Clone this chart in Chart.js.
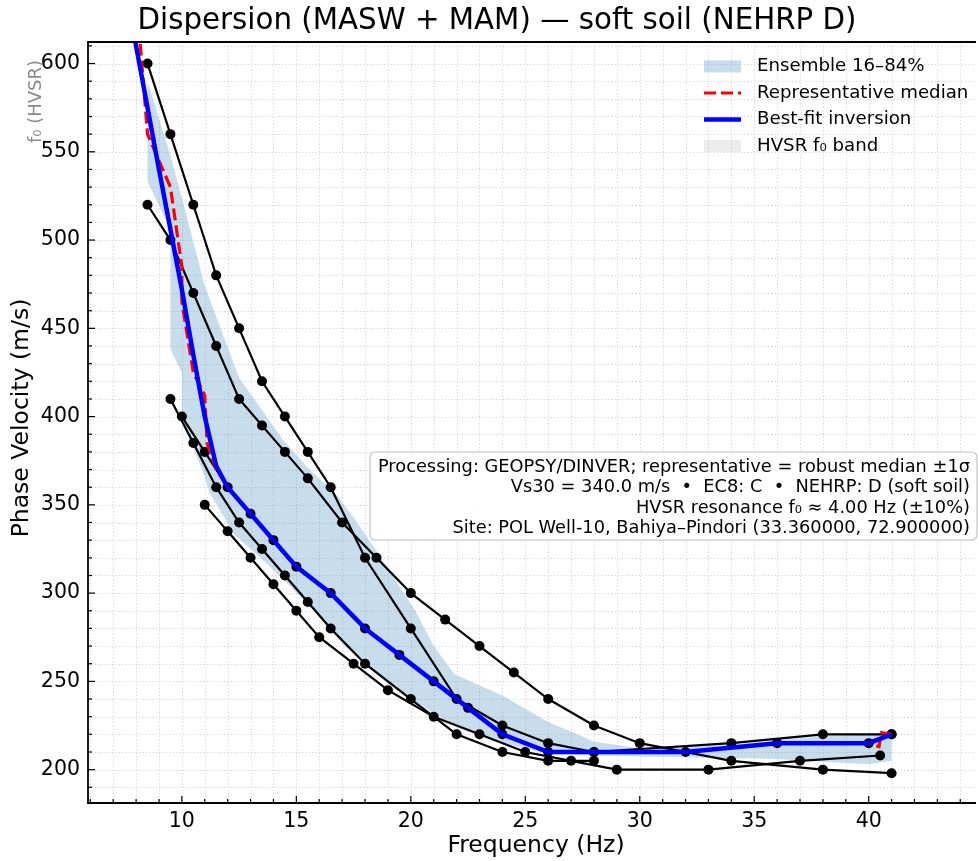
<!DOCTYPE html>
<html>
<head>
<meta charset="utf-8">
<script src="https://cdn.jsdelivr.net/npm/chart.js@4.4.1/dist/chart.umd.min.js"></script>
<style>
  html, body { margin: 0; padding: 0; background: #fff; }
  #chart { display: block; }
</style>
</head>
<body>
<canvas id="chart" width="979" height="861"></canvas>
<script>
// Data ==========================
// measured dispersion picks (black curves)
const pickAF = [8.5, 9.5, 10.5, 11.5, 12.5, 13.5, 14.5, 15.5, 16.5, 18, 20, 22, 24, 26, 28, 34, 38, 41];
const pickAV = [600, 560, 520, 480, 450, 420, 400, 380, 360, 320, 280, 240, 225, 215, 210, 215, 220, 220];
const pickBF = [8.5, 9.5, 10.5, 11.5, 12.5, 13.5, 14.5, 15.5, 17, 18.5, 20, 21.5, 23, 24.5, 26, 28, 30, 34, 38, 41];
const pickBV = [520, 500, 470, 440, 410, 395, 380, 365, 340, 320, 300, 285, 270, 255, 240, 225, 215, 205, 200, 198];
const pickCF = [9.5, 10.5, 11.5, 12.5, 13.5, 14.5, 15.5, 16.5, 18, 20, 22, 24, 26, 28];
const pickCV = [410, 385, 360, 340, 325, 310, 295, 280, 260, 240, 220, 210, 205, 205];
const pickDF = [10, 11, 12, 13, 14, 15, 16.5, 18, 19.5, 21, 22.5, 24, 26, 28, 32, 36, 40, 41];
const pickDV = [400, 380, 360, 345, 330, 315, 300, 280, 265, 250, 235, 220, 210, 210, 210, 215, 215, 220];
const pickEF = [11, 12, 13, 14, 15, 16, 17.5, 19, 21, 23, 25, 27, 29, 33, 37, 40.5];
const pickEV = [350, 335, 320, 305, 290, 275, 260, 245, 230, 220, 210, 205, 200, 200, 205, 208];

// ensemble 16-84% band edges
const bandHiF = [8.5, 9.5, 10, 11, 12.5, 14.4, 15.5, 16.8, 17.6, 18.6, 20.2, 21, 21.9, 24, 26, 28, 30, 34, 38, 41];
const bandHiV = [590, 548, 524, 474, 422, 387, 371, 355, 341, 322, 290, 270, 254, 242, 227, 216, 212, 214, 219, 220];
const bandLoF = [8.5, 9.5, 9.5, 10, 10, 11, 11.2, 12.3, 13.6, 15.5, 17.1, 19, 21, 22, 24, 26, 28, 32, 36, 40, 41];
const bandLoV = [533, 506, 438, 425, 398, 366, 357, 333, 318, 294, 270, 249, 232, 224, 215, 209, 208, 207, 206, 203, 205];

// representative median
const medianF = [8.0, 8.5, 9.5, 10, 10, 10.5, 11, 11.1, 11.5, 12, 13, 14, 15, 16.5, 18, 19.5, 21, 22.5, 24, 26, 28, 32, 36, 40, 40.45, 40.55, 41];
const medianV = [640, 560, 530, 485, 465, 425, 412, 385, 370, 360, 345, 330, 315, 300, 280, 265, 250, 235, 220, 210, 210, 210, 215, 215, 213, 221, 220];

// best-fit inversion
const bestF = [7.9, 9, 10, 10.5, 11, 11.5, 12, 13, 14, 15, 16.5, 18, 19.5, 21, 22.5, 24, 26, 28, 32, 36, 40, 41];
const bestV = [617, 540, 472, 435, 400, 372, 360, 345, 330, 315, 300, 280, 265, 250, 235, 220, 210, 210, 210, 215, 215, 220];

const hvsrF0 = 4.0;

const infoLines = [
    "Processing: GEOPSY/DINVER; representative = robust median \u00b11\u03c3",
    "Vs30 = 340.0 m/s  \u2022  EC8: C  \u2022  NEHRP: D (soft soil)",
    "HVSR resonance f\u2080 \u2248 4.00 Hz (\u00b110%)",
    "Site: POL Well-10, Bahiya\u2013Pindori (33.360000, 72.900000)"
];

const FONT = "'DejaVu Sans', sans-serif";

function pts(xs, ys) {
    return xs.map((x, i) => ({ x: x, y: ys[i] }));
}

// band polygon: upper edge forward, lower edge back
const bandShape = pts(bandHiF, bandHiV).concat(pts(bandLoF, bandLoV).reverse());

function pickSet(xs, ys) {
    return {
        data: pts(xs, ys),
        borderColor: "#000",
        borderWidth: 2.2,
        pointRadius: 5,
        pointBackgroundColor: "#000",
        pointBorderWidth: 0,
        fill: false,
        order: 2,
        clip: 0
    };
}

// Frame / decorations ==========================
const framePlugin = {
    id: "frame",
    beforeDatasetsDraw(chart) {
        const { ctx, chartArea: a, scales: { x, y } } = chart;
        ctx.save();
        ctx.beginPath();
        ctx.rect(a.left, a.top, a.right - a.left, a.bottom - a.top);
        ctx.clip();
        ctx.strokeStyle = "#c9c9c9";
        ctx.lineWidth = 0.8;
        ctx.setLineDash([1.2, 2.2]);
        for (let v = 6; v <= 44; v++) {
            const px = Math.round(x.getPixelForValue(v)) + 0.5;
            ctx.beginPath(); ctx.moveTo(px, a.top); ctx.lineTo(px, a.bottom); ctx.stroke();
        }
        for (let v = 190; v <= 610; v += 10) {
            const py = Math.round(y.getPixelForValue(v)) + 0.5;
            ctx.beginPath(); ctx.moveTo(a.left, py); ctx.lineTo(a.right, py); ctx.stroke();
        }
        ctx.restore();
    },
    afterDatasetsDraw(chart) {
        const { ctx, chartArea: a, scales: { x, y } } = chart;
        ctx.save();
        // spines
        ctx.strokeStyle = "#000";
        ctx.lineWidth = 1.8;
        ctx.beginPath();
        ctx.moveTo(a.right + 2, a.top);
        ctx.lineTo(a.left, a.top);
        ctx.lineTo(a.left, a.bottom);
        ctx.lineTo(a.right + 2, a.bottom);
        ctx.stroke();
        // inward ticks
        ctx.lineWidth = 1.2;
        for (let v = 6; v <= 44; v++) {
            const px = x.getPixelForValue(v);
            const len = v % 5 === 0 ? 7 : 4;
            ctx.beginPath(); ctx.moveTo(px, a.bottom); ctx.lineTo(px, a.bottom - len); ctx.stroke();
        }
        for (let v = 190; v <= 610; v += 10) {
            const py = y.getPixelForValue(v);
            const len = v % 50 === 0 ? 7 : 4;
            ctx.beginPath(); ctx.moveTo(a.left, py); ctx.lineTo(a.left + len, py); ctx.stroke();
        }

        // info box
        const bx = 370, by = 452, bw = 607, bh = 88;
        ctx.beginPath();
        ctx.roundRect(bx, by, bw, bh, 5);
        ctx.fillStyle = "rgba(255,255,255,0.92)";
        ctx.fill();
        ctx.strokeStyle = "#c4c4c4";
        ctx.lineWidth = 1.2;
        ctx.stroke();
        ctx.fillStyle = "#000";
        ctx.font = "17.8px " + FONT;
        ctx.textAlign = "right";
        ctx.textBaseline = "middle";
        infoLines.forEach((t, i) => ctx.fillText(t, 970, 467 + i * 20.6));

        // legend
        const lx = 704, lw = 37, tx = 757;
        const rows = [66.5, 93, 119.5, 146];
        ctx.textAlign = "left";
        ctx.font = "18.2px " + FONT;
        ctx.fillStyle = "rgba(31,119,180,0.25)";
        ctx.fillRect(lx, rows[0] - 6, lw, 12);
        ctx.strokeStyle = "#ff0000";
        ctx.lineWidth = 3.2;
        ctx.setLineDash([12, 5]);
        ctx.beginPath(); ctx.moveTo(lx, rows[1]); ctx.lineTo(lx + lw, rows[1]); ctx.stroke();
        ctx.setLineDash([]);
        ctx.strokeStyle = "#0000ff";
        ctx.lineWidth = 4.5;
        ctx.beginPath(); ctx.moveTo(lx, rows[2]); ctx.lineTo(lx + lw, rows[2]); ctx.stroke();
        ctx.fillStyle = "rgba(128,128,128,0.15)";
        ctx.fillRect(lx, rows[3] - 6, lw, 12);
        ctx.fillStyle = "#000";
        ctx.fillText("Ensemble 16\u201384%", tx, rows[0]);
        ctx.fillText("Representative median", tx, rows[1]);
        ctx.fillText("Best-fit inversion", tx, rows[2]);
        ctx.fillText("HVSR f\u2080 band", tx, rows[3]);
        ctx.restore();
    },
    afterDraw(chart) {
        const { ctx, scales: { x } } = chart;
        ctx.save();
        ctx.fillStyle = "#000";
        ctx.textAlign = "center";
        ctx.textBaseline = "middle";
        ctx.font = "29.3px " + FONT;
        ctx.fillText("Dispersion (MASW + MAM) \u2014 soft soil (NEHRP D)", 497, 21);
        ctx.font = "23.5px " + FONT;
        ctx.fillText("Frequency (Hz)", 536, 846);
        ctx.save();
        ctx.translate(22, 418);
        ctx.rotate(-Math.PI / 2);
        ctx.fillText("Phase Velocity (m/s)", 0, 0);
        ctx.restore();
        // HVSR f0 marker label (f0 lies left of the plotted range)
        ctx.translate(x.getPixelForValue(hvsrF0) - 8, 60);
        ctx.rotate(-Math.PI / 2);
        ctx.textAlign = "right";
        ctx.fillStyle = "#8a8a8a";
        ctx.font = "18px " + FONT;
        ctx.fillText("f\u2080 (HVSR)", 0, 0);
        ctx.restore();
    }
};

// Chart Setup ==========================
Chart.defaults.font.family = FONT;
Chart.defaults.color = "#000";

const chart = new Chart(document.getElementById("chart").getContext("2d"), {
    type: "line",
    data: {
        datasets: [
            {
                label: "Best-fit inversion",
                data: pts(bestF, bestV),
                borderColor: "#0000ff",
                borderWidth: 4.5,
                pointRadius: 0,
                fill: false,
                order: 0,
                clip: 0
            },
            {
                label: "Representative median",
                data: pts(medianF, medianV),
                borderColor: "#ff0000",
                borderWidth: 3.2,
                borderDash: [12, 5],
                pointRadius: 0,
                fill: false,
                order: 1,
                clip: 0
            },
            pickSet(pickAF, pickAV),
            pickSet(pickBF, pickBV),
            pickSet(pickCF, pickCV),
            pickSet(pickDF, pickDV),
            pickSet(pickEF, pickEV),
            {
                label: "Ensemble 16-84%",
                data: bandShape,
                borderWidth: 0,
                borderColor: "rgba(0,0,0,0)",
                backgroundColor: "rgba(31,119,180,0.25)",
                pointRadius: 0,
                fill: "shape",
                order: 3,
                clip: 0
            }
        ]
    },
    options: {
        responsive: false,
        animation: false,
        devicePixelRatio: 1,
        layout: { padding: { top: 42, right: 0, left: 0, bottom: 0 } },
        plugins: {
            legend: { display: false },
            tooltip: { enabled: false },
            title: { display: false }
        },
        elements: { line: { tension: 0 } },
        scales: {
            x: {
                type: "linear",
                min: 5.9,
                max: 44.6,
                grid: { display: false, drawTicks: false },
                border: { display: false },
                ticks: {
                    stepSize: 5,
                    includeBounds: false,
                    autoSkip: false,
                    maxRotation: 0,
                    padding: 6,
                    font: { size: 20.5 },
                    color: "#000"
                },
                afterFit(s) { s.height = 58; }
            },
            y: {
                type: "linear",
                min: 181.1,
                max: 612.2,
                grid: { display: false, drawTicks: false },
                border: { display: false },
                ticks: {
                    stepSize: 50,
                    includeBounds: false,
                    padding: 8,
                    font: { size: 20.5 },
                    color: "#000"
                },
                afterFit(s) { s.width = 88; }
            }
        }
    },
    plugins: [framePlugin]
});
</script>
</body>
</html>
